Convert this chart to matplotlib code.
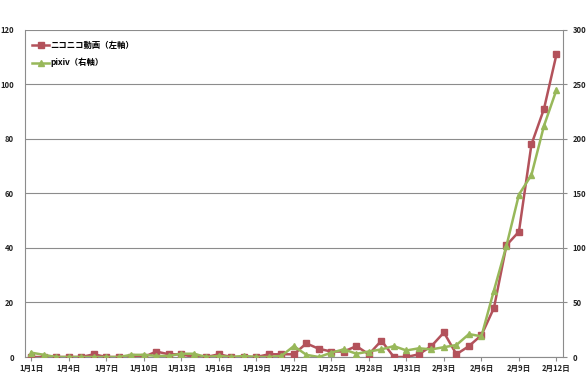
import matplotlib
matplotlib.use('Agg')
import matplotlib.pyplot as plt

plt.rcParams['font.family'] = ['Noto Sans CJK JP', 'DejaVu Sans']

# 1月1日 .. 2月12日 (43 days)
days = ['{}月{}日'.format(1, d) for d in range(1, 32)] + ['{}月{}日'.format(2, d) for d in range(1, 13)]

# ニコニコ動画 (left axis)
nico = [0, 0, 0, 0, 0, 1, 0, 0, 0, 0, 2, 1, 1, 0, 0, 1, 0, 0, 0, 1, 1, 1,
        5, 3, 2, 2, 4, 1, 6, 0, 0, 1, 4, 9, 1, 4, 8, 18, 41, 46, 78, 91, 111]
# pixiv (right axis)
pixiv = [4, 2, 0, 0, 0, 0, 0, 0, 2, 2, 1, 1, 3, 3, 0, 1, 0, 1, 0, 0, 1, 10,
         2, 0, 4, 7, 3, 5, 7, 10, 6, 8, 7, 9, 11, 21, 19, 61, 102, 149, 167, 212, 245]

red = '#b3525b'
green = '#98b85a'
grid_c = '#8c8c8c'

fig = plt.figure(figsize=(5.88, 3.84), dpi=100)
ax = fig.add_axes([0.0425, 0.0703, 0.9145, 0.8517])
ax2 = ax.twinx()

x = list(range(len(days)))
l1, = ax.plot(x, nico, color=red, lw=1.8, marker='s', ms=4, label='ニコニコ動画（左軸）', zorder=3)
l2, = ax2.plot(x, pixiv, color=green, lw=1.8, marker='^', ms=4, label='pixiv（右軸）', zorder=3)

ax.set_xlim(-0.5, len(days) - 0.5)
ax.set_ylim(0, 120)
ax2.set_ylim(0, 300)
ax.set_yticks(range(0, 121, 20))
ax2.set_yticks(range(0, 301, 50))
ax.set_xticks(x[::3])
ax.set_xticklabels(days[::3])

ax.yaxis.grid(True, color=grid_c, lw=0.8)
ax.set_axisbelow(True)

for a in (ax, ax2):
    a.spines['top'].set_visible(False)
    for s in ('left', 'right', 'bottom'):
        a.spines[s].set_color(grid_c)
ax.spines['right'].set_visible(False)
ax2.spines['left'].set_visible(False)
ax2.spines['bottom'].set_visible(False)

ax.tick_params(axis='x', labelsize=5.5, length=3, color=grid_c, pad=2)
ax.tick_params(axis='y', labelsize=5.5, length=0, pad=8)
ax2.tick_params(axis='y', labelsize=5.5, length=3, color=grid_c, pad=4)
for lab in ax.get_xticklabels() + ax.get_yticklabels() + ax2.get_yticklabels():
    lab.set_fontweight('bold')
    lab.set_color('#222222')

ax.legend(handles=[l1, l2], loc='upper left', bbox_to_anchor=(0.0, 0.99),
          frameon=False, handlelength=2.0, handletextpad=0.1,
          labelspacing=1.0, prop={'weight': 'bold', 'size': 6})

fig.savefig('out.png', dpi=100)
